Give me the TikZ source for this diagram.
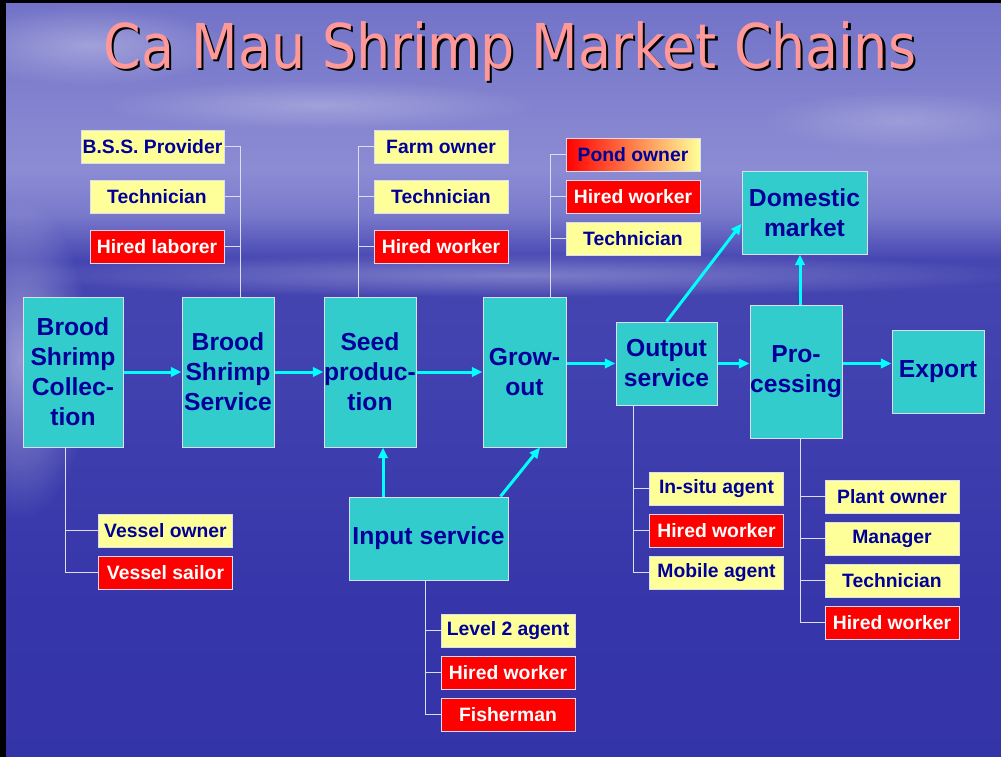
\documentclass[tikz,border=0pt]{standalone}
\usepackage{fontspec}
\setmainfont{Liberation Sans}
\newfontfamily\titlefont{DejaVu Sans}
\usepackage{tikz}
\usetikzlibrary{
	positioning,
	arrows.meta,
	calc,
	fadings
}
\definecolor{boxcyan}{HTML}{33CCCC}
\definecolor{boxyellow}{HTML}{FFFF99}
\definecolor{boxred}{HTML}{FF0000}
\definecolor{boxorange}{HTML}{FFC27A}
\definecolor{inkblue}{HTML}{000099}
\definecolor{flowcyan}{HTML}{00FFFF}
\definecolor{titlepink}{HTML}{FF9999}
\definecolor{linkwhite}{HTML}{DCDCF2}
\definecolor{seadeep}{HTML}{3030A6}
\definecolor{seamid}{HTML}{3636AA}
\definecolor{seatop}{HTML}{4646B2}
\definecolor{horizon}{HTML}{8C8CD4}
\definecolor{horizonlow}{HTML}{7A7ACC}
\definecolor{skylow}{HTML}{7272C8}
\definecolor{skymid}{HTML}{6A6AC4}
\definecolor{skytop}{HTML}{5A5ABE}
\pgfdeclareverticalshading{seasky}{100bp}{
	color(0bp)=(seadeep);
	color(35bp)=(seamid);
	color(58bp)=(seatop);
	color(61bp)=(horizonlow);
	color(64bp)=(horizon);
	color(75bp)=(skylow);
	color(88bp)=(skymid);
	color(100bp)=(skytop)
}
\tikzfading[name=glow, inner color=transparent!0, outer color=transparent!100]
\newcommand{\titletext}{Ca Mau Shrimp Market Chains}
\tikzset{
	boxsize/.style 2 args={
		minimum width=#1*0.75pt,
		minimum height=#2*0.75pt
	},
	stage/.style={
		draw=linkwhite, line width=0.75pt, fill=boxcyan, text=inkblue,
		align=center, inner sep=0pt,
		font=\fontsize{18.5}{22.5}\selectfont\bfseries
	},
	actor/.style={
		draw=linkwhite, line width=0.75pt, fill=boxyellow, text=inkblue,
		inner sep=0pt, boxsize={134}{33},
		font=\fontsize{14.5}{17}\selectfont\bfseries
	},
	hired/.style={
		actor, fill=boxred, text=white
	},
	flow/.style={
		draw=flowcyan, line width=2.25pt,
		-{Triangle[length=8pt,width=7pt]}
	},
	link/.style={
		draw=linkwhite, line width=0.75pt
	},
	haze/.style={
		fill=white, path fading=glow
	}
}

\begin{document}
\begin{tikzpicture}[x=0.75pt,y=-0.75pt]
	\useasboundingbox (0,0) rectangle (1001,757);
	\fill[black] (0,0) rectangle (1001,757);
	\fill[shading=seasky] (6,3) rectangle (1001,757);
	\begin{scope}
		\clip (6,3) rectangle (1001,757);
		\fill[haze, opacity=0.45] (20,360) ellipse (70 and 160);
		\fill[haze, opacity=0.3] (90,45) ellipse (140 and 40);
		\fill[haze, opacity=0.25] (320,105) ellipse (220 and 25);
		\fill[haze, opacity=0.3] (520,275) ellipse (520 and 22);
		\fill[haze, opacity=0.2] (900,120) ellipse (140 and 30);
	\end{scope}

	\node[anchor=base, text=titlepink] (title) at (510,68)
		{\scalebox{0.873}[1]{\titlefont\fontsize{46.3}{50}\selectfont
			\rlap{\kern1.8pt\raisebox{-1.8pt}{\color{black}\titletext}}\titletext}};

	\node[stage, boxsize={100}{150}] (coll) at (73,372) {Brood\\Shrimp\\Collec-\\tion};
	\node[stage, boxsize={92}{150}]  (serv) at (228,372) {Brood\\Shrimp\\Service};
	\node[stage, boxsize={92}{150}]  (seed) at (370,372) {Seed\\produc-\\tion};
	\node[stage, boxsize={83}{150}]  (grow) at (524.5,372) {Grow-\\out};
	\node[stage, boxsize={101}{83}]  (outs) at (666.5,363.5) {Output\\service};
	\node[stage, boxsize={92}{133}]  (proc) at (796,371.5) {Pro-\\cessing};
	\node[stage, boxsize={92}{83}]   (expo) at (938,371.5) {Export};
	\node[stage, boxsize={125}{83}]  (dome) at (804.5,212.5) {Domestic\\market};
	\node[stage, boxsize={159}{83}]  (inps) at (428.5,538.5) {Input service};

	\node[actor, boxsize={143}{33}] (bss) at (152.5,146.5) {B.S.S. Provider};
	\node[actor] (tech1) at (157,196.5) {Technician};
	\node[hired] (hire1) at (157,246.5) {Hired laborer};

	\node[actor] (farm)  at (441,146.5) {Farm owner};
	\node[actor] (tech2) at (441,196.5) {Technician};
	\node[hired] (hire2) at (441,246.5) {Hired worker};

	\node[actor, left color=boxred, middle color=boxorange, right color=boxyellow] (pond) at (633,154.5) {Pond owner};
	\node[hired] (hire3) at (633,196.5) {Hired worker};
	\node[actor] (tech3) at (633,238.5) {Technician};

	\node[actor] (vown)  at (165.5,530.5) {Vessel owner};
	\node[hired] (vsail) at (165.5,572.5) {Vessel sailor};

	\node[actor] (lvl2)  at (508,630.5) {Level 2 agent};
	\node[hired] (hire4) at (508,672.5) {Hired worker};
	\node[hired] (fish)  at (508,714.5) {Fisherman};

	\node[actor] (insitu) at (716.5,488.5) {In-situ agent};
	\node[hired] (hire5)  at (716.5,530.5) {Hired worker};
	\node[actor] (mobile) at (716.5,572.5) {Mobile agent};

	\node[actor] (plant) at (892,496.5) {Plant owner};
	\node[actor] (mgr)   at (892,538.5) {Manager};
	\node[actor] (tech4) at (892,580.5) {Technician};
	\node[hired] (hire6) at (892,622.5) {Hired worker};

	\foreach \n in {bss,tech1,hire1}
		\draw[link] (\n.east) -| ($(serv.north)+(12,0)$);
	\foreach \n in {farm,tech2,hire2}
		\draw[link] (\n.west) -| ($(seed.north)+(-12,0)$);
	\foreach \n in {pond,hire3,tech3}
		\draw[link] (\n.west) -| ($(grow.north)+(25.5,0)$);
	\foreach \n in {vown,vsail}
		\draw[link] (\n.west) -| ($(coll.south)+(-8,0)$);
	\foreach \n in {lvl2,hire4,fish}
		\draw[link] (\n.west) -| ($(inps.south)+(-3.5,0)$);
	\foreach \n in {insitu,hire5,mobile}
		\draw[link] (\n.west) -| ($(outs.south)+(-33.5,0)$);
	\foreach \n in {plant,mgr,tech4,hire6}
		\draw[link] (\n.west) -| ($(proc.south)+(4,0)$);

	\draw[flow] (coll) -- (serv);
	\draw[flow] (serv) -- (seed);
	\draw[flow] (seed) -- (grow);
	\draw[flow] (grow.east |- outs.west) -- (outs.west);
	\draw[flow] (outs.east) -- (outs.east -| proc.west);
	\draw[flow] (outs.east -| proc.east) -- (outs.east -| expo.west);
	\draw[flow] ($(proc.north)+(4,0)$) -- ($(dome.south)+(-4.5,0)$);
	\draw[flow] (outs.north) -- (dome.190);
	\draw[flow] ($(inps.north)+(-45.5,0)$) -- ($(seed.south)+(13,0)$);
	\draw[flow] ($(inps.north east)+(-8,0)$) -- ($(grow.south)+(15.5,0)$);
\end{tikzpicture}
\end{document}
